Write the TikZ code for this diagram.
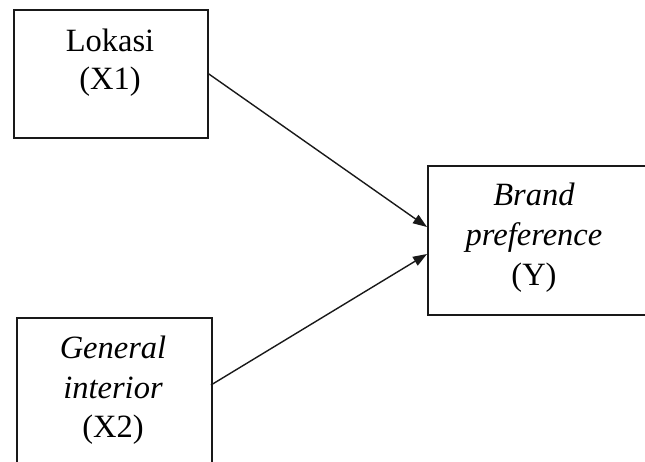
\documentclass[tikz,border=0pt]{standalone}
\usepackage{fontspec}
\setmainfont{Liberation Serif}
\usetikzlibrary{arrows.meta}
\begin{document}
\begin{tikzpicture}[x=1pt,y=-1pt,
  box/.style={draw=black!90, line width=1.5pt, rectangle, inner sep=0pt, anchor=north west},
  lbl/.style={anchor=base, inner sep=0pt, font=\fontsize{32.5}{39}\selectfont, text=black},
  conn/.style={draw=black!90, line width=1.4pt, -{Triangle[length=14pt,width=10pt]}}]
\useasboundingbox (0,0) rectangle (645,461);
\clip (0,0) rectangle (645,461);
\node[box, minimum width=194pt, minimum height=128pt] (b1) at (13,9) {};
\node[box, minimum width=195pt, minimum height=160pt] (b2) at (16,317) {};
\node[box, minimum width=230pt, minimum height=149pt] (b3) at (427,165) {};
\node[lbl] (t1a) at (110,51) {Lokasi};
\node[lbl] (t1b) at (110,89) {(X1)};
\node[lbl] (t2a) at (113,358) {\itshape General};
\node[lbl] (t2b) at (113,398) {\itshape interior};
\node[lbl] (t2c) at (113,437) {(X2)};
\node[lbl] (t3a) at (534,205) {\itshape Brand};
\node[lbl] (t3b) at (534,245) {\itshape preference};
\node[lbl] (t3c) at (534,285) {(Y)};
\coordinate (s1) at (b1.east);
\coordinate (s2) at (211,385);
\coordinate (e1) at (427,227);
\coordinate (e2) at (427,254);
\draw[conn] (s1) -- (e1);
\draw[conn] (s2) -- (e2);
\end{tikzpicture}
\end{document}
